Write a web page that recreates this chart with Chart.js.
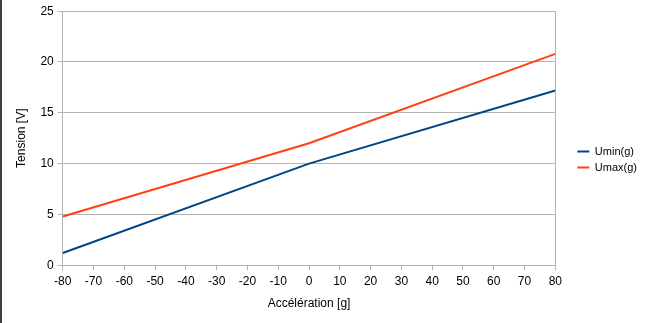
<!DOCTYPE html>
<html>
<head>
<meta charset="utf-8">
<script src="https://cdn.jsdelivr.net/npm/chart.js@4/dist/chart.umd.min.js"></script>
<style>
  html, body { margin: 0; padding: 0; background: #fff; }
  #wrap { position: relative; width: 648px; height: 323px; }
  #edge { position: absolute; left: 0; top: 0; width: 2px; height: 323px; background: #3f3f3f; }
</style>
</head>
<body>
<div id="wrap">
  <canvas id="chart" width="648" height="323"></canvas>
  <div id="edge"></div>
</div>
<script>
// acceleration in g, tension in V
const accel = [-80, 0, 80];
const uMin = [1.2, 10, 17.2];
const uMax = [4.8, 12, 20.8];
const seriesNames = ["Umin(g)", "Umax(g)"];
const seriesColors = ["#004586", "#ff420e"];

const gridColor = "#b3b3b3";
const font = { family: "'Liberation Sans', Arial, sans-serif", size: 12 };
const legendFont = { family: "'Liberation Sans', Arial, sans-serif", size: 11 };

const toPoints = (ys) => accel.map((x, i) => ({ x: x, y: ys[i] }));

// push the legend a bit away from the plot area
const legendShift = {
  id: "legendShift",
  afterLayout(chart) {
    const lg = chart.legend;
    if (!lg) return;
    lg.left += 17;
    lg.right += 17;
  },
};

new Chart(document.getElementById("chart"), {
  type: "line",
  data: {
    datasets: [uMin, uMax].map((ys, i) => ({
      label: seriesNames[i],
      data: toPoints(ys),
      borderColor: seriesColors[i],
      backgroundColor: seriesColors[i],
      borderWidth: 2,
      pointRadius: 0,
      tension: 0,
    })),
  },
  options: {
    responsive: false,
    animation: false,
    layout: { padding: { top: 4, right: 18, left: 10, bottom: 8 } },
    plugins: {
      legend: {
        position: "right",
        labels: {
          usePointStyle: true,
          pointStyle: "line",
          pointStyleWidth: 12,
          boxHeight: 11,
          padding: 5,
          color: "#000",
          font: legendFont,
        },
      },
      tooltip: { enabled: false },
    },
    scales: {
      x: {
        type: "linear",
        min: -80,
        max: 80,
        ticks: { stepSize: 10, color: "#000", font: font, padding: 4, maxRotation: 0 },
        grid: {
          color: (c) => (c.tick && Math.abs(c.tick.value) === 80 ? gridColor : "transparent"),
          tickColor: gridColor,
          tickLength: 5,
        },
        border: { color: gridColor },
        title: { display: true, text: "Accélération [g]", color: "#000", font: font, padding: { top: 4 } },
      },
      y: {
        min: 0,
        max: 25,
        ticks: { stepSize: 5, color: "#000", font: font, padding: 4 },
        grid: { color: gridColor, tickColor: gridColor, tickLength: 5 },
        border: { color: gridColor },
        title: { display: true, text: "Tension [V]", color: "#000", font: font, padding: { bottom: 8 } },
      },
    },
  },
  plugins: [legendShift],
});
</script>
</body>
</html>
